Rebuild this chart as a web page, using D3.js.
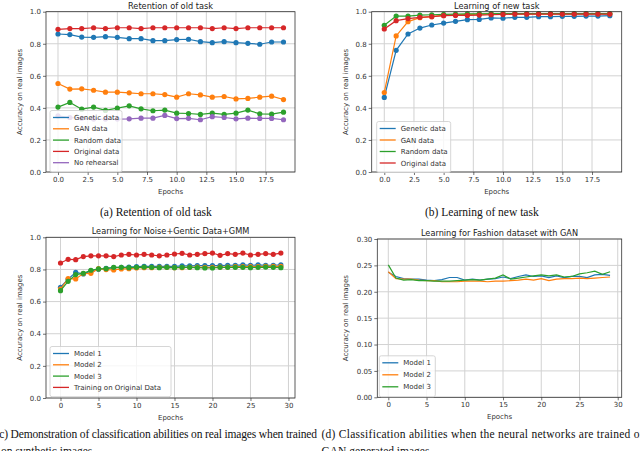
<!DOCTYPE html>
<html>
<head>
<meta charset="utf-8">
<script src="https://cdn.jsdelivr.net/npm/d3@7"></script>
<style>
  body { margin: 0; background: #fff; }
  svg { display: block; }
</style>
</head>
<body>
<svg id="fig" width="640" height="451"></svg>
<script>
// chart values

// (a) Retention of old task
var retGenetic = [0.861, 0.857, 0.842, 0.840, 0.844, 0.840, 0.832, 0.832, 0.819, 0.819, 0.826, 0.828, 0.813, 0.807, 0.813, 0.807, 0.803, 0.797, 0.811, 0.811]
var retGAN = [0.552, 0.517, 0.519, 0.510, 0.498, 0.498, 0.494, 0.488, 0.488, 0.483, 0.467, 0.488, 0.481, 0.467, 0.471, 0.456, 0.459, 0.467, 0.473, 0.452]
var retRandom = [0.405, 0.434, 0.392, 0.405, 0.384, 0.398, 0.413, 0.394, 0.382, 0.386, 0.367, 0.365, 0.359, 0.367, 0.359, 0.367, 0.386, 0.363, 0.361, 0.373]
var retOriginal = [0.890, 0.895, 0.895, 0.900, 0.895, 0.900, 0.900, 0.895, 0.900, 0.900, 0.900, 0.900, 0.900, 0.895, 0.900, 0.895, 0.900, 0.900, 0.900, 0.900]
var retNone = [0.350, 0.340, 0.335, 0.330, 0.330, 0.330, 0.332, 0.336, 0.336, 0.353, 0.333, 0.335, 0.326, 0.345, 0.340, 0.332, 0.336, 0.334, 0.334, 0.326]

// (b) Learning of new task
var newGenetic = [0.465, 0.759, 0.861, 0.898, 0.917, 0.929, 0.940, 0.950, 0.952, 0.961, 0.959, 0.965, 0.965, 0.969, 0.969, 0.971, 0.971, 0.973, 0.973, 0.975]
var newGAN = [0.496, 0.849, 0.938, 0.963, 0.969, 0.977, 0.981, 0.983, 0.985, 0.985, 0.987, 0.987, 0.987, 0.987, 0.987, 0.987, 0.987, 0.987, 0.987, 0.987]
var newRandom = [0.915, 0.973, 0.973, 0.979, 0.981, 0.983, 0.985, 0.987, 0.987, 0.988, 0.988, 0.988, 0.988, 0.988, 0.988, 0.988, 0.988, 0.988, 0.988, 0.988]
var newOriginal = [0.892, 0.944, 0.957, 0.965, 0.969, 0.975, 0.977, 0.977, 0.979, 0.981, 0.983, 0.985, 0.985, 0.985, 0.985, 0.985, 0.985, 0.985, 0.985, 0.985]

// (c) Learning for Noise+Gentic Data+GMM
var gmmModel1 = [0.689, 0.739, 0.782, 0.772, 0.791, 0.801, 0.807, 0.811, 0.813, 0.815, 0.817, 0.819, 0.819, 0.819, 0.819, 0.819, 0.822, 0.822, 0.824, 0.824, 0.824, 0.824, 0.826, 0.826, 0.828, 0.826, 0.828, 0.826, 0.826, 0.828]
var gmmModel2 = [0.678, 0.743, 0.741, 0.774, 0.776, 0.805, 0.799, 0.797, 0.803, 0.805, 0.809, 0.811, 0.811, 0.813, 0.813, 0.811, 0.811, 0.813, 0.815, 0.813, 0.813, 0.815, 0.815, 0.817, 0.817, 0.817, 0.817, 0.819, 0.819, 0.819]
var gmmModel3 = [0.668, 0.726, 0.768, 0.776, 0.795, 0.803, 0.805, 0.813, 0.813, 0.811, 0.813, 0.815, 0.813, 0.811, 0.813, 0.811, 0.813, 0.813, 0.811, 0.809, 0.809, 0.813, 0.813, 0.813, 0.813, 0.811, 0.813, 0.815, 0.813, 0.811]
var gmmOriginal = [0.840, 0.863, 0.861, 0.880, 0.885, 0.885, 0.885, 0.880, 0.890, 0.894, 0.890, 0.894, 0.890, 0.885, 0.890, 0.896, 0.900, 0.890, 0.894, 0.898, 0.902, 0.888, 0.898, 0.894, 0.902, 0.890, 0.894, 0.898, 0.894, 0.902]

// (d) Learning for Fashion dataset with GAN
var fashModel1 = [0.237, 0.229, 0.225, 0.224, 0.224, 0.222, 0.221, 0.223, 0.227, 0.227, 0.222, 0.224, 0.222, 0.224, 0.225, 0.228, 0.225, 0.229, 0.232, 0.229, 0.230, 0.227, 0.230, 0.227, 0.229, 0.229, 0.227, 0.232, 0.233, 0.231]
var fashModel2 = [0.238, 0.225, 0.224, 0.224, 0.222, 0.221, 0.221, 0.219, 0.219, 0.219, 0.220, 0.220, 0.220, 0.219, 0.220, 0.220, 0.221, 0.222, 0.224, 0.222, 0.225, 0.221, 0.224, 0.225, 0.225, 0.226, 0.225, 0.226, 0.227, 0.228]
var fashModel3 = [0.251, 0.226, 0.222, 0.223, 0.221, 0.221, 0.220, 0.220, 0.220, 0.221, 0.222, 0.223, 0.222, 0.224, 0.226, 0.232, 0.224, 0.226, 0.228, 0.230, 0.232, 0.230, 0.232, 0.228, 0.229, 0.234, 0.236, 0.239, 0.233, 0.238]

var xTicksA = [0.0, 2.5, 5.0, 7.5, 10.0, 12.5, 15.0, 17.5]
var xTicksC = [0, 5, 10, 15, 20, 25, 30]
var yTicksUnit = [0.0, 0.2, 0.4, 0.6, 0.8, 1.0]
var yTicksFash = [0.00, 0.05, 0.10, 0.15, 0.20, 0.25, 0.30]

var C = { blue: '#1f77b4', orange: '#ff7f0e', green: '#2ca02c', red: '#d62728', purple: '#9467bd' }
var SANS = 'DejaVu Sans, sans-serif'
var SERIF = 'Liberation Serif, Times New Roman, serif'

var svg = d3.select('#fig')

function drawPanel ({ box, xdom, ydom, xticks, xfmt, yticks, yfmt, title, ylabelX, series, markers, legend }) {
  var g = svg.append('g')
  var x = d3.scaleLinear().domain(xdom).range([box.x0, box.x1])
  var y = d3.scaleLinear().domain(ydom).range([box.y1, box.y0])

  // grid
  g.selectAll('.vg').data(xticks).enter().append('line')
    .attr('x1', d => x(d)).attr('x2', d => x(d))
    .attr('y1', box.y0).attr('y2', box.y1)
    .attr('stroke', '#d2d2d2').attr('stroke-width', 1)
  g.selectAll('.hg').data(yticks).enter().append('line')
    .attr('x1', box.x0).attr('x2', box.x1)
    .attr('y1', d => y(d)).attr('y2', d => y(d))
    .attr('stroke', '#d2d2d2').attr('stroke-width', 1)

  // axes with ticks
  var xAxis = d3.axisBottom(x).tickValues(xticks).tickFormat(xfmt).tickSize(3).tickPadding(2)
  var yAxis = d3.axisLeft(y).tickValues(yticks).tickFormat(yfmt).tickSize(3).tickPadding(2)
  var xa = g.append('g').attr('transform', 'translate(0,' + box.y1 + ')').call(xAxis)
  var ya = g.append('g').attr('transform', 'translate(' + box.x0 + ',0)').call(yAxis)
  ;[xa, ya].forEach(function (a) {
    a.select('.domain').remove()
    a.selectAll('line').attr('stroke', '#333').attr('stroke-width', 0.7)
    a.selectAll('text').attr('fill', '#333').style('font-family', SANS).style('font-size', '7px')
  })

  // series
  series.forEach(function (s) {
    var line = d3.line().x((d, i) => x(i)).y(d => y(d))
    g.append('path').datum(s.values)
      .attr('d', line).attr('fill', 'none')
      .attr('stroke', s.color).attr('stroke-width', 1.2)
    if (markers) {
      g.selectAll(null).data(s.values).enter().append('circle')
        .attr('cx', (d, i) => x(i)).attr('cy', d => y(d))
        .attr('r', 2.6).attr('fill', s.color)
    }
  })

  // frame
  g.append('rect')
    .attr('x', box.x0).attr('y', box.y0)
    .attr('width', box.x1 - box.x0).attr('height', box.y1 - box.y0)
    .attr('fill', 'none').attr('stroke', '#333').attr('stroke-width', 0.8)

  // labels
  g.append('text').attr('x', (box.x0 + box.x1) / 2).attr('y', box.y0 - 3)
    .attr('text-anchor', 'middle').attr('fill', '#222')
    .style('font-family', SANS).style('font-size', '8.2px').text(title)
  g.append('text').attr('x', (box.x0 + box.x1) / 2).attr('y', box.y1 + 22)
    .attr('text-anchor', 'middle').attr('fill', '#333')
    .style('font-family', SANS).style('font-size', '7px').text('Epochs')
  g.append('text')
    .attr('transform', 'translate(' + ylabelX + ',' + ((box.y0 + box.y1) / 2) + ') rotate(-90)')
    .attr('text-anchor', 'middle').attr('fill', '#333')
    .style('font-family', SANS).style('font-size', '7px').text('Accuracy on real images')

  // legend
  var lg = g.append('g')
  lg.append('rect')
    .attr('x', legend.x).attr('y', legend.y).attr('width', legend.w)
    .attr('height', legend.step * series.length + 5)
    .attr('rx', 2).attr('fill', 'white').attr('fill-opacity', 0.8)
    .attr('stroke', '#cccccc').attr('stroke-width', 0.8)
  series.forEach(function (s, i) {
    var cy = legend.y + 7 + i * legend.step
    lg.append('line').attr('x1', legend.x + 3).attr('x2', legend.x + 19)
      .attr('y1', cy).attr('y2', cy).attr('stroke', s.color).attr('stroke-width', 1.3)
    lg.append('text').attr('x', legend.x + 24).attr('y', cy + 2.5)
      .attr('fill', '#333').style('font-family', SANS).style('font-size', '7px').text(s.name)
  })
}

var f1 = d3.format('.1f')
var f0 = d3.format('d')
var f2 = d3.format('.2f')

drawPanel({
  box: { x0: 46, x1: 295, y0: 11.7, y1: 172 },
  xdom: [-1.01, 19.97], ydom: [0, 1],
  xticks: xTicksA, xfmt: f1, yticks: yTicksUnit, yfmt: f1,
  title: 'Retention of old task', ylabelX: 22,
  markers: true,
  series: [
    { name: 'Genetic data', color: C.blue, values: retGenetic },
    { name: 'GAN data', color: C.orange, values: retGAN },
    { name: 'Random data', color: C.green, values: retRandom },
    { name: 'Original data', color: C.red, values: retOriginal },
    { name: 'No rehearsal', color: C.purple, values: retNone }
  ],
  legend: { x: 50, y: 110.5, w: 72, step: 11.3 }
})

drawPanel({
  box: { x0: 371.7, x1: 621.7, y0: 11.7, y1: 172 },
  xdom: [-1.06, 20.0], ydom: [0, 1],
  xticks: xTicksA, xfmt: f1, yticks: yTicksUnit, yfmt: f1,
  title: 'Learning of new task', ylabelX: 348,
  markers: true,
  series: [
    { name: 'Genetic data', color: C.blue, values: newGenetic },
    { name: 'GAN data', color: C.orange, values: newGAN },
    { name: 'Random data', color: C.green, values: newRandom },
    { name: 'Original data', color: C.red, values: newOriginal }
  ],
  legend: { x: 376.7, y: 121.5, w: 74, step: 11.5 }
})

drawPanel({
  box: { x0: 46, x1: 295, y0: 237.3, y1: 398 },
  xdom: [-1.91, 30.86], ydom: [0, 1],
  xticks: xTicksC, xfmt: f0, yticks: yTicksUnit, yfmt: f1,
  title: 'Learning for Noise+Gentic Data+GMM', ylabelX: 22,
  markers: true,
  series: [
    { name: 'Model 1', color: C.blue, values: gmmModel1 },
    { name: 'Model 2', color: C.orange, values: gmmModel2 },
    { name: 'Model 3', color: C.green, values: gmmModel3 },
    { name: 'Training on Original Data', color: C.red, values: gmmOriginal }
  ],
  legend: { x: 50, y: 346.5, w: 121, step: 11.3 }
})

drawPanel({
  box: { x0: 377.3, x1: 621.7, y0: 239, y1: 397.3 },
  xdom: [-1.44, 30.52], ydom: [0, 0.3],
  xticks: xTicksC, xfmt: f0, yticks: yTicksFash, yfmt: f2,
  title: 'Learning for Fashion dataset with GAN', ylabelX: 348,
  markers: false,
  series: [
    { name: 'Model 1', color: C.blue, values: fashModel1 },
    { name: 'Model 2', color: C.orange, values: fashModel2 },
    { name: 'Model 3', color: C.green, values: fashModel3 }
  ],
  legend: { x: 379.3, y: 355.8, w: 56, step: 12 }
})

// sub-figure captions (Times-like)
function caption (txt, x, yb, len) {
  var t = svg.append('text').attr('x', x).attr('y', yb)
    .attr('fill', '#111').style('font-family', SERIF).style('font-size', '11.5px').text(txt)
  if (len) t.attr('textLength', len).attr('lengthAdjust', 'spacing')
}
caption('(a) Retention of old task', 100, 216)
caption('(b) Learning of new task', 425, 216)
caption('(c) Demonstration of classification abilities on real images when trained', -4.5, 438, 321.5)
caption('on synthetic images.', 1, 455)
caption('(d) Classification abilities when the neural networks are trained on', 321.5, 438, 324)
caption('GAN generated images.', 321.5, 455)
</script>
</body>
</html>
